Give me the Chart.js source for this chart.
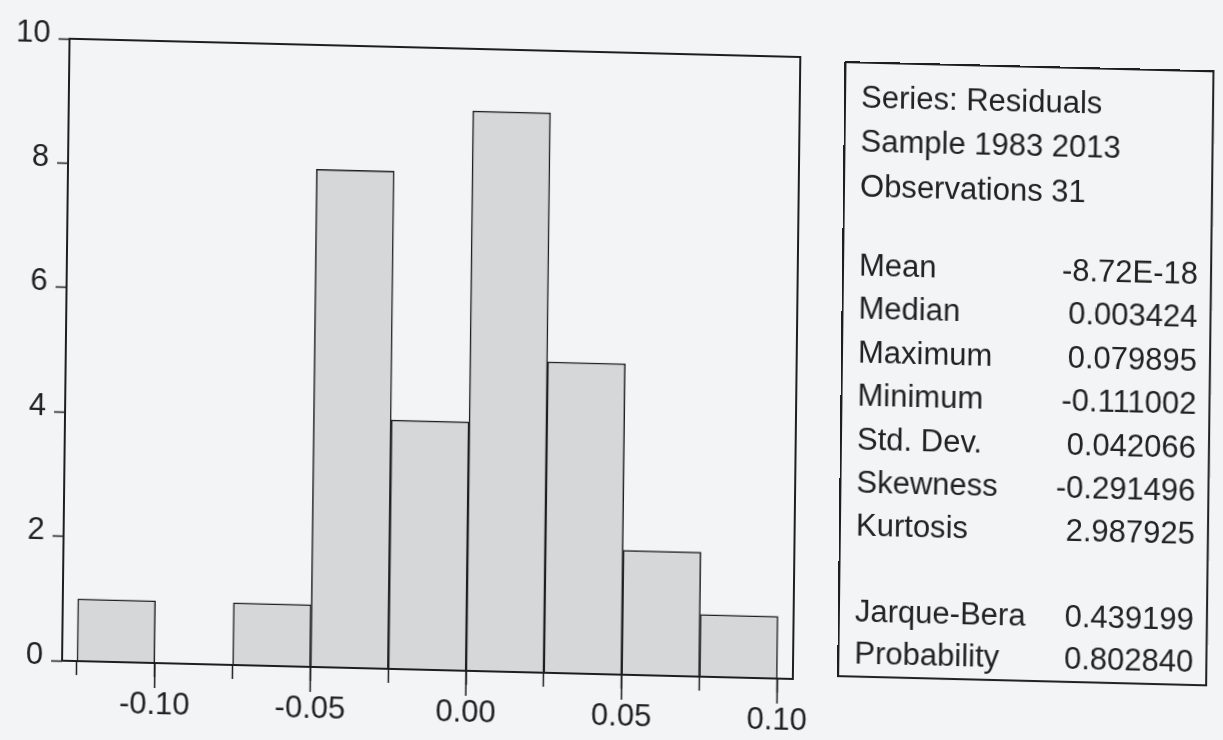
<!DOCTYPE html>
<html>
<head>
<meta charset="utf-8">
<script src="https://cdn.jsdelivr.net/npm/chart.js@4.4.1/dist/chart.umd.min.js"></script>
<style>
  body { margin: 0; background: #f2f4f5; overflow: hidden; width: 1223px; height: 740px; }
  /* the scan is slightly sheared, so the whole sheet is too */
  #page { position: absolute; left: 0; top: 0; width: 1223px; height: 740px;
          transform-origin: 0 0; transform: matrix(1, 0.025, -0.012, 1, 0, 0); }
  #chart { position: absolute; left: 0; top: 0; }
  #stats { position: absolute; left: 845px; top: 40px; width: 370px; height: 616px;
           box-sizing: border-box; border: 2px solid #1e1e1e; }
  .row { position: absolute; left: 15px; right: 12px; height: 44px; line-height: 44px;
         font-family: "Liberation Sans", Arial, sans-serif; font-size: 31px; color: #222;
         display: flex; justify-content: space-between; white-space: nowrap; }
</style>
</head>
<body>
<div id="page">
  <canvas id="chart" width="1223" height="740"></canvas>
  <div id="stats"></div>
</div>
<script>
// histogram of residuals, bin width 0.025
var binCenters = [-0.1125, -0.0875, -0.0625, -0.0375, -0.0125, 0.0125, 0.0375, 0.0625, 0.0875];
var binCounts = [1, 0, 1, 8, 4, 9, 5, 2, 1];

var xTicks = [-0.125, -0.1, -0.075, -0.05, -0.025, 0, 0.025, 0.05, 0.075, 0.1];
var xTickLabels = ['', '-0.10', '', '-0.05', '', '0.00', '', '0.05', '', '0.10'];
var yTicks = [0, 2, 4, 6, 8, 10];

// statistics panel text
var headerLines = ['Series: Residuals', 'Sample 1983 2013', 'Observations 31'];
var statLabels = ['Mean', 'Median', 'Maximum', 'Minimum', 'Std. Dev.', 'Skewness', 'Kurtosis'];
var statValues = ['-8.72E-18', '0.003424', '0.079895', '-0.111002', '0.042066', '-0.291496', '2.987925'];
var testLabels = ['Jarque-Bera', 'Probability'];
var testValues = ['0.439199', '0.802840'];

var ink = '#1e1e1e';

var framePlugin = {
    id: 'frame',
    afterDraw: function(chart) {
        var ctx = chart.ctx, a = chart.chartArea, x = chart.scales.x;
        ctx.save();
        ctx.strokeStyle = ink;
        ctx.lineWidth = 2;
        ctx.strokeRect(a.left, a.top, a.right - a.left, a.bottom - a.top);
        // longer ticks under the labelled values
        ctx.lineWidth = 1.5;
        ctx.beginPath();
        for (var i = 0; i < xTicks.length; i++) {
            if (xTickLabels[i] == '') continue;
            var px = x.getPixelForValue(xTicks[i]);
            ctx.moveTo(px, a.bottom);
            ctx.lineTo(px, a.bottom + 25);
        }
        ctx.stroke();
        ctx.restore();
    }
};

var points = [];
for (var i = 0; i < binCenters.length; i++) {
    points.push({x: binCenters[i], y: binCounts[i]});
}

var config = {
    type: 'bar',
    data: {
        datasets: [{
            data: points,
            backgroundColor: '#d6d7d8',
            borderColor: ink,
            borderWidth: 1.5,
            barPercentage: 1,
            categoryPercentage: 1
        }]
    },
    options: {
        responsive: false,
        animation: false,
        devicePixelRatio: 1,
        layout: { padding: { top: 37, right: 422, bottom: 0, left: 0 } },
        plugins: { legend: { display: false }, tooltip: { enabled: false } },
        scales: {
            x: {
                type: 'linear',
                offset: false,
                min: -0.1298,
                max: 0.105,
                afterBuildTicks: function(scale) {
                    scale.ticks = xTicks.map(function(v) { return {value: v}; });
                },
                afterFit: function(scale) { scale.height = 81; },
                border: { display: false },
                grid: { offset: false, drawOnChartArea: false, drawTicks: true, tickLength: 14, tickColor: ink, tickWidth: 1.5 },
                ticks: {
                    autoSkip: false,
                    maxRotation: 0,
                    includeBounds: false,
                    padding: 10,
                    color: '#222',
                    font: { family: 'Liberation Sans', size: 31 },
                    callback: function(v, i) { return xTickLabels[i]; }
                }
            },
            y: {
                min: 0,
                max: 10,
                afterBuildTicks: function(scale) {
                    scale.ticks = yTicks.map(function(v) { return {value: v}; });
                },
                afterFit: function(scale) { scale.width = 70; },
                border: { display: false },
                grid: { drawOnChartArea: false, drawTicks: true, tickLength: 11, tickColor: ink, tickWidth: 1.5 },
                ticks: {
                    padding: 8,
                    labelOffset: -5,
                    color: '#222',
                    font: { family: 'Liberation Sans', size: 31 }
                }
            }
        }
    },
    plugins: [framePlugin]
};

window.onload = function() {
    var box = document.getElementById('stats');
    function addRow(center, label, value) {
        var row = document.createElement('div');
        row.className = 'row';
        row.style.top = (center - 40 - 2 - 22) + 'px';
        var l = document.createElement('span');
        l.textContent = label;
        row.appendChild(l);
        var r = document.createElement('span');
        r.textContent = value || '';
        row.appendChild(r);
        box.appendChild(row);
    }
    for (var i = 0; i < headerLines.length; i++) addRow(75.5 + i * 44.5, headerLines[i], '');
    for (i = 0; i < statLabels.length; i++) addRow(244 + i * 43.4, statLabels[i], statValues[i]);
    for (i = 0; i < testLabels.length; i++) addRow(590 + i * 42, testLabels[i], testValues[i]);

    var ctx = document.getElementById('chart').getContext('2d');
    window.myHist = new Chart(ctx, config);
};
</script>
</body>
</html>
